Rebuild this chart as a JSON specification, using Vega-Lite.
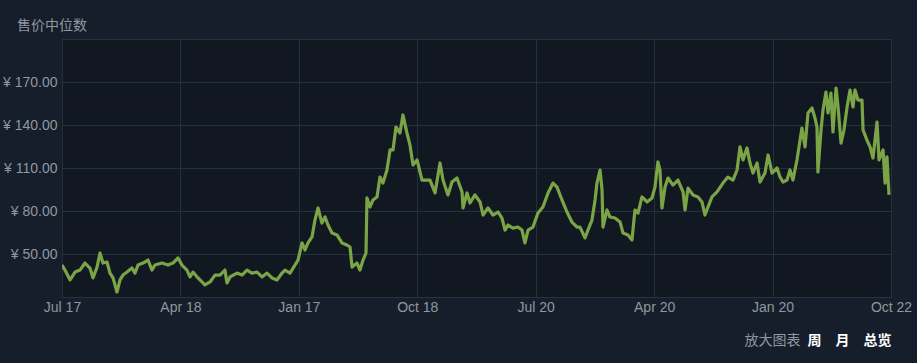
{
  "$schema": "https://vega.github.io/schema/vega-lite/v6.json",
  "width": 829,
  "height": 258,
  "autosize": {"type": "none"},
  "padding": {"left": 62, "top": 39, "right": 26, "bottom": 66},
  "background": "#151e2a",
  "config": {
    "view": {"fill": "#111821", "stroke": "#263342", "strokeWidth": 1},
    "font": "Liberation Sans"
  },
  "title": {
    "text": "售价中位数",
    "orient": "top",
    "anchor": "start",
    "frame": "group",
    "dx": -45,
    "dy": 16,
    "offset": 8,
    "baseline": "bottom",
    "font": "Noto Sans CJK SC",
    "fontSize": 14,
    "fontWeight": "normal",
    "color": "#8f98a0"
  },
  "data": {
    "values": [
      {"t": 0, "p": 42.3}, {"t": 0.025, "p": 38.8}, {"t": 0.068, "p": 31.9}, {"t": 0.11, "p": 37.4},
      {"t": 0.152, "p": 38.8}, {"t": 0.194, "p": 43.7}, {"t": 0.236, "p": 40.2}, {"t": 0.262, "p": 33.3},
      {"t": 0.296, "p": 40.9}, {"t": 0.321, "p": 50.7}, {"t": 0.346, "p": 43.7}, {"t": 0.38, "p": 44.4},
      {"t": 0.405, "p": 36.7}, {"t": 0.431, "p": 33.3}, {"t": 0.464, "p": 23.5}, {"t": 0.49, "p": 31.9},
      {"t": 0.515, "p": 35.3}, {"t": 0.549, "p": 37.4}, {"t": 0.591, "p": 40.2}, {"t": 0.616, "p": 36.7},
      {"t": 0.642, "p": 42.3}, {"t": 0.684, "p": 43.7}, {"t": 0.726, "p": 45.8}, {"t": 0.76, "p": 38.8},
      {"t": 0.785, "p": 42.3}, {"t": 0.844, "p": 43.7}, {"t": 0.895, "p": 42.3}, {"t": 0.937, "p": 43.7},
      {"t": 0.98, "p": 47.2}, {"t": 1.013, "p": 42.3}, {"t": 1.055, "p": 38.8}, {"t": 1.081, "p": 34.0},
      {"t": 1.106, "p": 37.4}, {"t": 1.148, "p": 33.3}, {"t": 1.207, "p": 28.4}, {"t": 1.25, "p": 30.5},
      {"t": 1.292, "p": 35.3}, {"t": 1.334, "p": 35.3}, {"t": 1.376, "p": 38.8}, {"t": 1.393, "p": 29.8},
      {"t": 1.419, "p": 34.0}, {"t": 1.478, "p": 36.7}, {"t": 1.52, "p": 35.3}, {"t": 1.562, "p": 38.8},
      {"t": 1.604, "p": 36.7}, {"t": 1.647, "p": 37.4}, {"t": 1.689, "p": 34.0}, {"t": 1.731, "p": 36.7},
      {"t": 1.773, "p": 33.3}, {"t": 1.815, "p": 31.9}, {"t": 1.858, "p": 36.7}, {"t": 1.883, "p": 38.8},
      {"t": 1.925, "p": 36.7}, {"t": 1.967, "p": 42.3}, {"t": 1.993, "p": 45.8}, {"t": 2.027, "p": 57.7},
      {"t": 2.052, "p": 52.8}, {"t": 2.077, "p": 57.7}, {"t": 2.111, "p": 61.9}, {"t": 2.136, "p": 73.7},
      {"t": 2.162, "p": 82.1}, {"t": 2.195, "p": 71.6}, {"t": 2.221, "p": 75.8}, {"t": 2.246, "p": 70.2},
      {"t": 2.28, "p": 64.7}, {"t": 2.322, "p": 63.3}, {"t": 2.364, "p": 57.7}, {"t": 2.406, "p": 56.3},
      {"t": 2.432, "p": 54.9}, {"t": 2.449, "p": 40.9}, {"t": 2.491, "p": 43.7}, {"t": 2.516, "p": 38.8},
      {"t": 2.542, "p": 45.8}, {"t": 2.567, "p": 50.7}, {"t": 2.575, "p": 89.1}, {"t": 2.601, "p": 82.8},
      {"t": 2.626, "p": 87.7}, {"t": 2.66, "p": 89.8}, {"t": 2.685, "p": 103.7}, {"t": 2.71, "p": 99.5},
      {"t": 2.744, "p": 108.6}, {"t": 2.77, "p": 122.6}, {"t": 2.795, "p": 122.6}, {"t": 2.82, "p": 138.6},
      {"t": 2.854, "p": 134.4}, {"t": 2.879, "p": 147.0}, {"t": 2.913, "p": 134.4}, {"t": 2.938, "p": 126.1},
      {"t": 2.964, "p": 112.1}, {"t": 2.998, "p": 115.6}, {"t": 3.04, "p": 101.6}, {"t": 3.082, "p": 101.6},
      {"t": 3.107, "p": 101.6}, {"t": 3.15, "p": 92.6}, {"t": 3.192, "p": 113.5}, {"t": 3.217, "p": 101.6},
      {"t": 3.259, "p": 91.2}, {"t": 3.293, "p": 100.2}, {"t": 3.335, "p": 103.0}, {"t": 3.378, "p": 93.3},
      {"t": 3.386, "p": 82.1}, {"t": 3.42, "p": 92.6}, {"t": 3.445, "p": 85.6}, {"t": 3.487, "p": 91.2},
      {"t": 3.53, "p": 86.3}, {"t": 3.555, "p": 77.2}, {"t": 3.597, "p": 82.1}, {"t": 3.639, "p": 77.2},
      {"t": 3.682, "p": 79.3}, {"t": 3.715, "p": 75.1}, {"t": 3.741, "p": 66.7}, {"t": 3.766, "p": 70.2},
      {"t": 3.808, "p": 68.1}, {"t": 3.85, "p": 68.8}, {"t": 3.884, "p": 66.7}, {"t": 3.909, "p": 57.7},
      {"t": 3.935, "p": 66.7}, {"t": 3.977, "p": 68.8}, {"t": 4.019, "p": 78.6}, {"t": 4.061, "p": 82.8},
      {"t": 4.104, "p": 92.6}, {"t": 4.146, "p": 99.5}, {"t": 4.18, "p": 96.7}, {"t": 4.222, "p": 87.7},
      {"t": 4.264, "p": 79.3}, {"t": 4.306, "p": 72.3}, {"t": 4.349, "p": 68.8}, {"t": 4.374, "p": 68.8},
      {"t": 4.416, "p": 61.2}, {"t": 4.441, "p": 66.7}, {"t": 4.475, "p": 73.7}, {"t": 4.501, "p": 87.7},
      {"t": 4.517, "p": 99.5}, {"t": 4.543, "p": 108.6}, {"t": 4.56, "p": 94.6}, {"t": 4.568, "p": 68.8},
      {"t": 4.602, "p": 80.7}, {"t": 4.627, "p": 75.8}, {"t": 4.669, "p": 75.1}, {"t": 4.712, "p": 72.3},
      {"t": 4.737, "p": 64.7}, {"t": 4.779, "p": 63.3}, {"t": 4.813, "p": 59.8}, {"t": 4.838, "p": 80.7},
      {"t": 4.864, "p": 78.6}, {"t": 4.897, "p": 89.8}, {"t": 4.94, "p": 86.3}, {"t": 4.982, "p": 89.1},
      {"t": 5.007, "p": 96.7}, {"t": 5.032, "p": 114.2}, {"t": 5.049, "p": 108.6}, {"t": 5.066, "p": 82.1},
      {"t": 5.092, "p": 96.7}, {"t": 5.117, "p": 103.0}, {"t": 5.159, "p": 98.1}, {"t": 5.201, "p": 101.6},
      {"t": 5.244, "p": 93.3}, {"t": 5.261, "p": 80.7}, {"t": 5.286, "p": 96.0}, {"t": 5.328, "p": 91.2},
      {"t": 5.37, "p": 89.8}, {"t": 5.404, "p": 86.3}, {"t": 5.429, "p": 77.2}, {"t": 5.455, "p": 82.8},
      {"t": 5.488, "p": 89.8}, {"t": 5.531, "p": 93.3}, {"t": 5.581, "p": 99.5}, {"t": 5.623, "p": 103.7},
      {"t": 5.666, "p": 101.6}, {"t": 5.7, "p": 108.6}, {"t": 5.725, "p": 124.7}, {"t": 5.75, "p": 115.6},
      {"t": 5.784, "p": 124.0}, {"t": 5.809, "p": 113.5}, {"t": 5.835, "p": 106.5}, {"t": 5.869, "p": 113.5},
      {"t": 5.894, "p": 100.2}, {"t": 5.936, "p": 106.5}, {"t": 5.962, "p": 119.1}, {"t": 5.995, "p": 106.5},
      {"t": 6.038, "p": 110.0}, {"t": 6.063, "p": 103.7}, {"t": 6.088, "p": 100.2}, {"t": 6.122, "p": 101.6},
      {"t": 6.147, "p": 108.6}, {"t": 6.172, "p": 101.6}, {"t": 6.206, "p": 115.6}, {"t": 6.232, "p": 129.5},
      {"t": 6.248, "p": 137.9}, {"t": 6.274, "p": 124.7}, {"t": 6.299, "p": 148.4}, {"t": 6.333, "p": 151.9},
      {"t": 6.358, "p": 144.9}, {"t": 6.375, "p": 138.6}, {"t": 6.383, "p": 107.2}, {"t": 6.409, "p": 136.5},
      {"t": 6.426, "p": 150.5}, {"t": 6.451, "p": 163.0}, {"t": 6.468, "p": 148.4}, {"t": 6.493, "p": 162.3},
      {"t": 6.51, "p": 135.1}, {"t": 6.536, "p": 165.8}, {"t": 6.553, "p": 152.6}, {"t": 6.578, "p": 127.4},
      {"t": 6.603, "p": 136.5}, {"t": 6.629, "p": 152.6}, {"t": 6.654, "p": 164.4}, {"t": 6.679, "p": 152.6},
      {"t": 6.696, "p": 164.4}, {"t": 6.721, "p": 157.4}, {"t": 6.755, "p": 157.4}, {"t": 6.764, "p": 136.5},
      {"t": 6.797, "p": 129.5}, {"t": 6.823, "p": 124.7}, {"t": 6.848, "p": 117.0}, {"t": 6.882, "p": 142.1},
      {"t": 6.899, "p": 115.6}, {"t": 6.933, "p": 122.6}, {"t": 6.95, "p": 99.5}, {"t": 6.966, "p": 117.7},
      {"t": 6.983, "p": 91.2}
    ]
  },
  "layer": [
    {
      "mark": {"type": "line", "color": "#7ba446", "strokeWidth": 3.2, "strokeJoin": "round", "clip": true},
      "encoding": {
        "x": {
          "field": "t",
          "type": "quantitative",
          "scale": {"domain": [0, 7], "nice": false, "zero": false},
          "axis": {
            "orient": "bottom",
            "values": [0, 1, 2, 3, 4, 5, 6, 7],
            "labelExpr": "['Jul 17','Apr 18','Jan 17','Oct 18','Jul 20','Apr 20','Jan 20','Oct 22'][datum.value]",
            "grid": true,
            "gridColor": "#233040",
            "ticks": false,
            "domain": true,
            "domainColor": "#263342",
            "labelColor": "#8f98a0",
            "labelFont": "Liberation Sans",
            "labelFontSize": 14,
            "labelPadding": 3,
            "labelFlush": false,
            "labelOverlap": false,
            "title": "放大图表",
            "titleColor": "#8f98a0",
            "titleFont": "Noto Sans CJK SC",
            "titleFontWeight": "normal",
            "titleFontSize": 14,
            "titleAlign": "right",
            "titleAnchor": "end",
            "titleX": 738,
            "titleY": 43,
            "titleBaseline": "middle"
          }
        },
        "y": {
          "field": "p",
          "type": "quantitative",
          "scale": {"domain": [20, 200], "nice": false, "zero": false},
          "axis": {
            "values": [50, 80, 110, 140, 170],
            "labelExpr": "'¥ ' + format(datum.value, '.2f')",
            "grid": true,
            "gridColor": "#233040",
            "ticks": false,
            "domain": false,
            "labelColor": "#8f98a0",
            "labelFont": "Liberation Sans",
            "labelFontSize": 14,
            "labelPadding": 5,
            "title": null
          }
        }
      }
    },
    {
      "mark": {"type": "line", "opacity": 0},
      "encoding": {
        "x": {
          "field": "t",
          "type": "quantitative",
          "axis": {
            "orient": "bottom",
            "labels": false,
            "ticks": false,
            "domain": false,
            "grid": false,
            "title": "周　月　总览",
            "titleColor": "#ffffff",
            "titleFont": "Noto Sans CJK SC",
            "titleFontWeight": "bold",
            "titleFontSize": 14,
            "titleAlign": "right",
            "titleAnchor": "end",
            "titleX": 829,
            "titleY": 43,
            "titleBaseline": "middle"
          }
        },
        "y": {"field": "p", "type": "quantitative"}
      }
    }
  ],
  "resolve": {"axis": {"x": "independent"}}
}
